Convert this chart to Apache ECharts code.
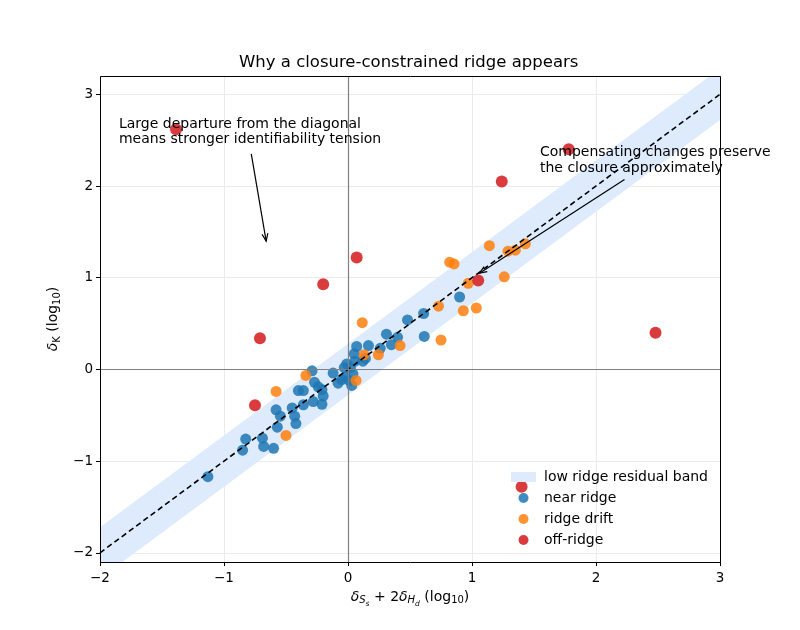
<!DOCTYPE html>
<html>
<head>
<meta charset="utf-8">
<script src="https://cdn.jsdelivr.net/npm/echarts@6/dist/echarts.min.js"></script>
<style>
  html, body { margin: 0; padding: 0; background: #fff; }
  #chart { width: 800px; height: 630px; }
</style>
</head>
<body>
<div id="chart"></div>
<script>
// near ridge points (blue)
const nearX = [-1.13, -0.85, -0.825, -0.69, -0.68, -0.60, -0.58, -0.545, -0.57, -0.45, -0.43, -0.42,
  -0.40, -0.36, -0.36, -0.29, -0.27, -0.28, -0.24, -0.21, -0.20, -0.21, -0.12, -0.08, -0.05, -0.02,
  -0.01, 0.02, 0.04, 0.03, 0.05, 0.056, 0.07, 0.12, 0.14, 0.165, 0.26, 0.31, 0.35, 0.40, 0.48,
  0.61, 0.615, 0.90, -0.03, 0.01]
const nearY = [-1.17, -0.88, -0.76, -0.75, -0.84, -0.86, -0.44, -0.51, -0.63, -0.42, -0.51, -0.59,
  -0.23, -0.23, -0.385, -0.015, -0.14, -0.35, -0.19, -0.22, -0.29, -0.38, -0.04, -0.15, -0.11, -0.08,
  0.06, 0.02, -0.05, -0.175, 0.17, 0.09, 0.25, 0.09, 0.12, 0.26, 0.23, 0.385, 0.27, 0.35, 0.54,
  0.61, 0.36, 0.79, 0.02, -0.12]
// ridge drift points (orange)
const driftX = [-0.58, -0.34, -0.50, 0.115, 0.13, 0.245, 0.065, 0.42, 0.73, 0.75, 0.82, 0.855,
  0.97, 0.93, 1.035, 1.14, 1.26, 1.29, 1.35, 1.43]
const driftY = [-0.24, -0.065, -0.72, 0.51, 0.16, 0.16, -0.12, 0.26, 0.69, 0.32, 1.17, 1.15,
  0.94, 0.64, 0.67, 1.35, 1.01, 1.29, 1.30, 1.37]
// off-ridge points (red)
const offX = [-1.387, 1.78, 1.24, 0.07, -0.20, 1.05, -0.71, 2.48, -0.75, 1.40]
const offY = [2.62, 2.40, 2.05, 1.22, 0.93, 0.97, 0.34, 0.40, -0.39, -1.28]
// residual band and diagonal
const bandX = [-2, 3]
const bandLo = [-2.28, 2.72]
const bandHi = [-1.72, 3.28]
const diagX = [-2, 3]
const diagY = [-2, 3]
const xTicks = [-2, -1, 0, 1, 2, 3]
const yTicks = [-2, -1, 0, 1, 2, 3]

const FONT = 'DejaVu Sans'
const fmt = v => (v < 0 ? '\u2212' + Math.abs(v) : String(v))
const pairs = (xs, ys) => xs.map((x, i) => [x, ys[i]])

const chart = echarts.init(document.getElementById('chart'), null, { renderer: 'canvas' })

const sub = {
  d: { fontFamily: FONT, fontSize: 14, fontStyle: 'italic', color: '#000', verticalAlign: 'top' },
  t: { fontFamily: FONT, fontSize: 14, color: '#000', verticalAlign: 'top' },
  si: { fontFamily: FONT, fontSize: 10, fontStyle: 'italic', color: '#000', verticalAlign: 'top', padding: [6, 0, 0, 0] },
  sr: { fontFamily: FONT, fontSize: 10, color: '#000', verticalAlign: 'top', padding: [6, 0, 0, 0] },
  ss: { fontFamily: FONT, fontSize: 7.5, fontStyle: 'italic', color: '#000', verticalAlign: 'top', padding: [10, 0, 0, 0] }
}

chart.setOption({
  animation: false,
  backgroundColor: '#fff',
  title: {
    text: 'Why a closure-constrained ridge appears',
    left: 234,
    top: 49,
    textStyle: { fontFamily: FONT, fontSize: 16.5, fontWeight: 'normal', color: '#000' }
  },
  grid: { left: 100, right: 80, top: 76, bottom: 68 },
  legend: {
    orient: 'vertical',
    left: 506,
    top: 465,
    itemWidth: 25,
    itemHeight: 10,
    itemGap: 7,
    textStyle: { fontFamily: FONT, fontSize: 14, color: '#000', padding: [0, 0, 0, 3] },
    data: [
      { name: 'low ridge residual band', icon: 'rect' },
      { name: 'near ridge', icon: 'circle' },
      { name: 'ridge drift', icon: 'circle' },
      { name: 'off-ridge', icon: 'circle' }
    ]
  },
  xAxis: {
    type: 'value',
    min: -2, max: 3, interval: 1,
    name: '{d|δ}{si|S}{ss|s}{t| + 2}{d|δ}{si|H}{ss|d}{t| (log}{sr|10}{t|)}',
    nameLocation: 'middle',
    nameGap: 27,
    nameTextStyle: { rich: sub },
    axisLine: { show: false, onZero: false },
    axisTick: { show: true, length: 4, lineStyle: { color: '#000' }, customValues: xTicks },
    axisLabel: { fontFamily: FONT, fontSize: 13.5, color: '#000', margin: 9, formatter: fmt, customValues: xTicks },
    splitLine: { show: true, lineStyle: { color: '#ebebeb', width: 1 } }
  },
  yAxis: {
    type: 'value',
    min: -2.1, max: 3.2, minInterval: 1, maxInterval: 1,
    name: '{d|δ}{sr|K}{t| (log}{sr|10}{t|)}',
    nameLocation: 'middle',
    nameRotate: 90,
    nameGap: 36,
    nameTextStyle: { rich: sub },
    axisLine: { show: false, onZero: false },
    axisTick: { show: true, length: 4, lineStyle: { color: '#000' }, customValues: yTicks },
    axisLabel: { fontFamily: FONT, fontSize: 13.5, color: '#000', margin: 7, formatter: fmt, customValues: yTicks },
    splitLine: { show: true, lineStyle: { color: '#ebebeb', width: 1 } }
  },
  series: [
    {
      name: 'low ridge residual band',
      type: 'custom',
      clip: true,
      z: 1,
      silent: true,
      itemStyle: { color: '#ddebfc' },
      data: bandX.map((x, i) => [x, bandLo[i], bandHi[i]]),
      encode: { x: 0, y: [1, 2] },
      renderItem(params, api) {
        if (params.dataIndex !== 0) return
        const pts = []
        bandX.forEach((x, i) => pts.push(api.coord([x, bandHi[i]])))
        for (let i = bandX.length - 1; i >= 0; i--) pts.push(api.coord([bandX[i], bandLo[i]]))
        return { type: 'polygon', shape: { points: pts }, style: { fill: '#ddebfc' } }
      },
      markLine: {
        silent: true,
        symbol: 'none',
        label: { show: false },
        lineStyle: { color: '#808080', width: 1.2, type: 'solid' },
        data: [{ xAxis: 0 }, { yAxis: 0 }]
      }
    },
    {
      name: 'near ridge',
      type: 'scatter',
      z: 3,
      symbolSize: 11,
      itemStyle: { color: '#1f77b4', opacity: 0.85 },
      data: pairs(nearX, nearY)
    },
    {
      name: 'ridge drift',
      type: 'scatter',
      z: 3,
      symbolSize: 11,
      itemStyle: { color: '#ff7f0e', opacity: 0.85 },
      data: pairs(driftX, driftY)
    },
    {
      name: 'off-ridge',
      type: 'scatter',
      z: 3,
      symbolSize: 12,
      itemStyle: { color: '#d62728', opacity: 0.9 },
      data: pairs(offX, offY)
    },
    {
      name: 'diagonal',
      type: 'line',
      z: 4,
      symbol: 'none',
      silent: true,
      lineStyle: { color: '#000', width: 1.6, type: [5.5, 3.5] },
      data: pairs(diagX, diagY)
    }
  ]
})

// annotations: text anchors and arrows in data coordinates
const notes = [
  { text: 'Large departure from the diagonal\nmeans stronger identifiability tension', at: [-1.847, 2.76] },
  { text: 'Compensating changes preserve\nthe closure approximately', at: [1.548, 2.45] }
]
const arrows = [
  { from: [-0.78, 2.35], to: [-0.66, 1.40] },
  { from: [2.23, 2.07], to: [1.06, 1.05] }
]
const px = p => chart.convertToPixel({ xAxisIndex: 0, yAxisIndex: 0 }, p)
const graphic = []
notes.forEach(n => {
  const p = px(n.at)
  graphic.push({
    type: 'text', x: p[0], y: p[1], z: 10,
    style: { text: n.text, fill: '#000', font: '14px "DejaVu Sans"', lineHeight: 15.5, textVerticalAlign: 'top' }
  })
})
arrows.forEach(a => {
  const s = px(a.from)
  const e = px(a.to)
  const ang = Math.atan2(e[1] - s[1], e[0] - s[0])
  const L = 8, w = 0.38
  graphic.push({
    type: 'line', z: 10,
    shape: { x1: s[0], y1: s[1], x2: e[0], y2: e[1] },
    style: { stroke: '#000', lineWidth: 1.2 }
  })
  graphic.push({
    type: 'polyline', z: 10,
    shape: { points: [
      [e[0] - L * Math.cos(ang - w), e[1] - L * Math.sin(ang - w)],
      [e[0], e[1]],
      [e[0] - L * Math.cos(ang + w), e[1] - L * Math.sin(ang + w)]
    ] },
    style: { stroke: '#000', lineWidth: 1.2, fill: null }
  })
})
// axes frame (spines) drawn on top of the grid lines
const c0 = px([-2, 3.2])
const c1 = px([3, -2.1])
graphic.push({
  type: 'rect', z: 20, silent: true,
  shape: { x: Math.round(c0[0]) + 0.5, y: Math.round(c0[1]) + 0.5, width: Math.round(c1[0] - c0[0]), height: Math.round(c1[1] - c0[1]) },
  style: { stroke: '#000', lineWidth: 1, fill: null }
})
chart.setOption({ graphic })
</script>
</body>
</html>
